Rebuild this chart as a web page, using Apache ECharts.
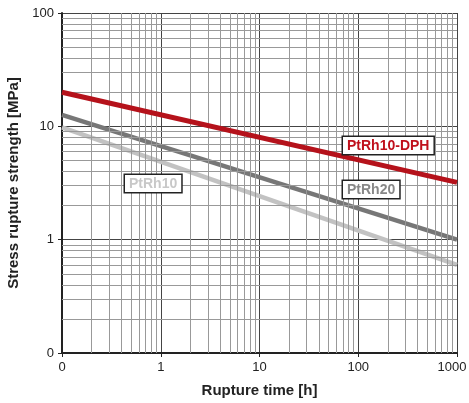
<!DOCTYPE html>
<html>
<head>
<meta charset="utf-8">
<script src="https://cdn.jsdelivr.net/npm/echarts@6/dist/echarts.min.js"></script>
<style>
	html, body { margin: 0; padding: 0; background: #fff; }
	#main { width: 469px; height: 403px; }
</style>
</head>
<body>
<div id="main"></div>
<script>
// rupture time [h] at the two ends of each line
var times = [0.1, 1000];
// stress rupture strength [MPa]
var dph = [20, 3.2];
var rh20 = [12.6, 1.0];
var rh10 = [9.8, 0.6];

var xMajor = [0.1, 1, 10, 100, 1000];
var yMajor = [0.1, 1, 10, 100];

var FONT = '"Liberation Sans", Arial, sans-serif';

function pairs(xs, ys) {
	var out = [];
	for (var i = 0; i < xs.length; i++) out.push([xs[i], ys[i]]);
	return out;
}

// minor log grid lines 2..9 in each decade
var minorLines = [];
for (var i = 0; i < xMajor.length - 1; i++) {
	for (var k = 2; k <= 9; k++) minorLines.push({ xAxis: xMajor[i] * k });
}
for (var i = 0; i < yMajor.length - 1; i++) {
	for (var k = 2; k <= 9; k++) minorLines.push({ yAxis: yMajor[i] * k });
}

function tickFmt(v) {
	if (v < 0.5) return '0';
	return String(Math.round(v));
}

// last x label sits a bit to the left so it stays inside the picture
function xTickFmt(v) {
	if (v > 500) return '{last|' + Math.round(v) + '}';
	return tickFmt(v);
}

var myChart = echarts.init(document.getElementById('main'));

var option = {
	animation: false,
	grid: { left: 62, right: 12, top: 13, bottom: 50, outerBoundsMode: 'none', containLabel: false },
	xAxis: {
		type: 'log',
		logBase: 10,
		min: 0.1,
		max: 1000,
		name: 'Rupture time [h]',
		nameLocation: 'middle',
		nameGap: 30,
		nameTextStyle: { fontFamily: FONT, fontWeight: 'bold', fontSize: 15, color: '#222' },
		axisLine: { lineStyle: { color: '#222', width: 2 } },
		axisTick: { show: true, length: 4, lineStyle: { color: '#222', width: 1 } },
		axisLabel: {
			formatter: xTickFmt, color: '#222', fontFamily: FONT, fontSize: 13, margin: 8,
			rich: { last: { fontFamily: FONT, fontSize: 13, color: '#222', padding: [0, 10, 0, 0] } }
		},
		splitLine: { show: true, lineStyle: { color: '#444', width: 1 } }
	},
	yAxis: {
		type: 'log',
		logBase: 10,
		min: 0.1,
		max: 100,
		name: 'Stress rupture strength [MPa]',
		nameLocation: 'middle',
		nameGap: 31,
		nameTextStyle: { fontFamily: FONT, fontWeight: 'bold', fontSize: 15, color: '#222' },
		axisLine: { lineStyle: { color: '#222', width: 2 } },
		axisTick: { show: true, length: 4, lineStyle: { color: '#222', width: 1 } },
		axisLabel: { formatter: tickFmt, color: '#222', fontFamily: FONT, fontSize: 13, margin: 8 },
		splitLine: { show: true, lineStyle: { color: '#444', width: 1 } }
	},
	series: [
		{
			type: 'line',
			data: [[0.1, 0.1]],
			showSymbol: false,
			silent: true,
			z: 1,
			markLine: {
				silent: true,
				symbol: ['none', 'none'],
				label: { show: false },
				lineStyle: { color: '#999', width: 1, type: 'solid' },
				data: minorLines
			}
		},
		{
			name: 'PtRh10',
			type: 'line',
			data: pairs(times, rh10),
			showSymbol: false,
			lineStyle: { color: '#c2c2c2', width: 4.5 },
			z: 3
		},
		{
			name: 'PtRh20',
			type: 'line',
			data: pairs(times, rh20),
			showSymbol: false,
			lineStyle: { color: '#777777', width: 4.5 },
			z: 4
		},
		{
			name: 'PtRh10-DPH',
			type: 'line',
			data: pairs(times, dph),
			showSymbol: false,
			lineStyle: { color: '#b5121b', width: 5 },
			z: 5
		}
	],
	graphic: [
		{
			type: 'text', x: 343, y: 137, z: 10,
			style: {
				text: 'PtRh10-DPH', fill: '#c0101c', font: 'bold 14px ' + FONT,
				backgroundColor: '#fff', borderColor: '#222', borderWidth: 1.5, padding: [2, 4, 1, 4]
			}
		},
		{
			type: 'text', x: 343, y: 181, z: 10,
			style: {
				text: 'PtRh20', fill: '#888', font: 'bold 14px ' + FONT,
				backgroundColor: '#fff', borderColor: '#222', borderWidth: 1.5, padding: [2, 4, 1, 4]
			}
		},
		{
			type: 'text', x: 125, y: 175, z: 10,
			style: {
				text: 'PtRh10', fill: '#c8c8c8', font: 'bold 14px ' + FONT,
				backgroundColor: '#fff', borderColor: '#222', borderWidth: 1.5, padding: [2, 4, 1, 4]
			}
		}
	]
};
myChart.setOption(option);
</script>
</body>
</html>
